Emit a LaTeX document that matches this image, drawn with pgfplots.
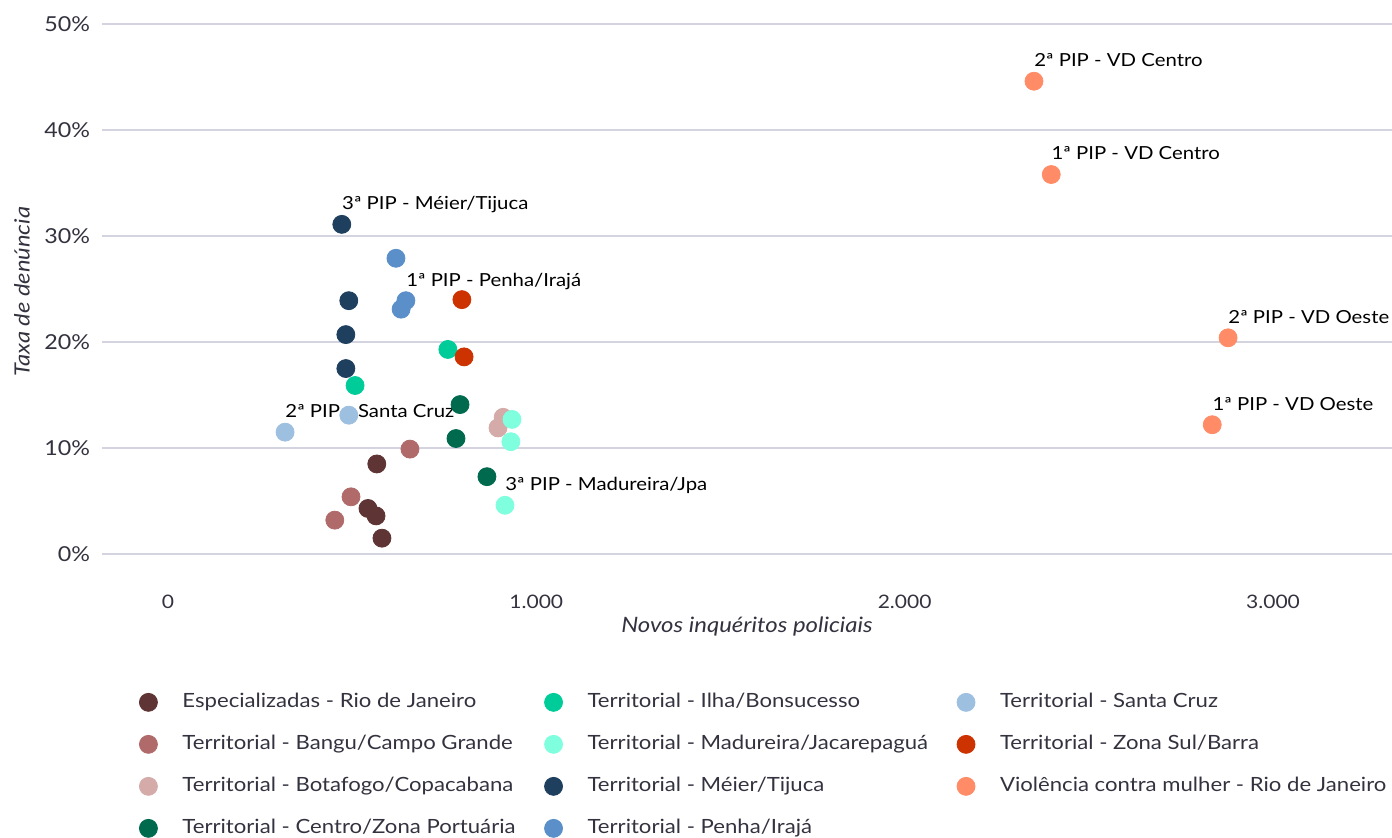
\documentclass[border=0pt]{standalone}
\usepackage{fontspec}
\setmainfont{Lato}[FakeStretch=1.13]
\usepackage{pgfplots}
\pgfplotsset{compat=1.18}
\definecolor{cEsp}{HTML}{5E3434}
\definecolor{cBan}{HTML}{B06A6A}
\definecolor{cBot}{HTML}{D4ABA8}
\definecolor{cCen}{HTML}{006A4E}
\definecolor{cIlh}{HTML}{00CC99}
\definecolor{cMad}{HTML}{80FFDF}
\definecolor{cMei}{HTML}{1F3F5F}
\definecolor{cPen}{HTML}{5A8FCA}
\definecolor{cSan}{HTML}{9DBFE0}
\definecolor{cZon}{HTML}{CC3300}
\definecolor{cVio}{HTML}{FF8C66}
\definecolor{gridc}{HTML}{D4D4E0}
\definecolor{tickc}{HTML}{333340}
\pgfplotsset{
  dot/.style={only marks, mark=*, mark size=4.5pt, color=#1},
}
\tikzset{
  lbl/.style={anchor=base west, inner sep=0pt, yshift=7.3pt, font=\fontsize{9}{10}\selectfont, text=black}
}
\begin{document}
\begin{tikzpicture}
\begin{axis}[
  scale only axis, width=645pt, height=282pt,
  xmin=-179, xmax=3323, ymin=-3.2, ymax=50,
  clip=false,
  axis line style={draw=none},
  major tick length=0pt,
  ymajorgrids, grid style={color=gridc, line width=1pt},
  xtick={0,1000,2000,3000}, xticklabels={0,1.000,2.000,3.000},
  ytick={0,10,20,30,40,50}, yticklabels={0\%,10\%,20\%,30\%,40\%,50\%},
  xticklabel style={font=\fontsize{9.3}{10}\selectfont, text=tickc},
  yticklabel style={font=\fontsize{10.3}{12}\selectfont, text=tickc, xshift=-2.5pt},
  xlabel={Novos inquéritos policiais},
  ylabel={Taxa de denúncia},
  xlabel style={at={(axis description cs:0.5,-0.069)}, anchor=center, font=\itshape\fontsize{10.6}{12}\selectfont, text=tickc},
  ylabel style={at={(axis description cs:-0.062,0.525)}, anchor=center, font=\itshape\fontsize{10.5}{12}\selectfont, text=tickc},
  legend columns=3, legend cell align=left,
  legend style={at={(axis description cs:0.0287,-0.1861)}, anchor=north west, draw=none, fill=none, inner sep=0pt,
    font=\fontsize{9.8}{11}\selectfont, text=tickc, row sep=12pt,
    /tikz/every odd column/.append style={column sep=12.5pt},
    /tikz/every even column/.append style={column sep=14.5pt},
    nodes={inner sep=0pt, text height=7pt, text depth=2pt}},
]
% Especializadas - Rio de Janeiro
\addplot[dot=cEsp, forget plot] coordinates {(567,8.5) (543,4.3) (565,3.6) (581,1.5)};
% Bangu/Campo Grande
\addplot[dot=cBan, forget plot] coordinates {(657,9.9) (497,5.4) (453,3.2)};
% Botafogo/Copacabana
\addplot[dot=cBot, forget plot] coordinates {(910,12.9) (896,11.9)};
% Centro/Zona Portuaria
\addplot[dot=cCen, forget plot] coordinates {(793,14.1) (782,10.9) (866,7.3)};
% Ilha/Bonsucesso
\addplot[dot=cIlh, forget plot] coordinates {(760,19.3) (508,15.9)};
% Madureira/Jacarepagua
\addplot[dot=cMad, forget plot] coordinates {(934,12.7) (931,10.6) (915,4.6)};
% Meier/Tijuca
\addplot[dot=cMei, forget plot] coordinates {(472,31.1) (491,23.9) (483,20.7) (483,17.5)};
% Penha/Iraja
\addplot[dot=cPen, forget plot] coordinates {(619,27.9) (646,23.9) (633,23.1)};
% Santa Cruz
\addplot[dot=cSan, forget plot] coordinates {(318,11.5) (491,13.1)};
% Zona Sul/Barra
\addplot[dot=cZon, forget plot] coordinates {(798,24.0) (804,18.6)};
% Violencia contra mulher
\addplot[dot=cVio, forget plot] coordinates {(2351,44.6) (2398,35.8) (2878,20.4) (2835,12.2)};

\node[lbl] at (axis cs:2351,44.6) {2ª PIP - VD Centro};
\node[lbl] at (axis cs:2398,35.8) {1ª PIP - VD Centro};
\node[lbl] at (axis cs:2878,20.4) {2ª PIP - VD Oeste};
\node[lbl] at (axis cs:2835,12.2) {1ª PIP - VD Oeste};
\node[lbl] at (axis cs:472,31.1) {3ª PIP - Méier/Tijuca};
\node[lbl] at (axis cs:646,23.9) {1ª PIP - Penha/Irajá};
\node[lbl] at (axis cs:318,11.5) {2ª PIP - Santa Cruz};
\node[lbl] at (axis cs:915,4.6) {3ª PIP - Madureira/Jpa};

\addlegendimage{dot=cEsp}\addlegendentry{Especializadas - Rio de Janeiro}
\addlegendimage{dot=cIlh}\addlegendentry{Territorial - Ilha/Bonsucesso}
\addlegendimage{dot=cSan}\addlegendentry{Territorial - Santa Cruz}
\addlegendimage{dot=cBan}\addlegendentry{Territorial - Bangu/Campo Grande}
\addlegendimage{dot=cMad}\addlegendentry{Territorial - Madureira/Jacarepaguá}
\addlegendimage{dot=cZon}\addlegendentry{Territorial - Zona Sul/Barra}
\addlegendimage{dot=cBot}\addlegendentry{Territorial - Botafogo/Copacabana}
\addlegendimage{dot=cMei}\addlegendentry{Territorial - Méier/Tijuca}
\addlegendimage{dot=cVio}\addlegendentry{Violência contra mulher - Rio de Janeiro}
\addlegendimage{dot=cCen}\addlegendentry{Territorial - Centro/Zona Portuária}
\addlegendimage{dot=cPen}\addlegendentry{Territorial - Penha/Irajá}
\end{axis}
\pgfresetboundingbox
\path ([xshift=-51pt,yshift=-125pt]current axis.south west) rectangle ([yshift=12pt]current axis.north east);
\end{tikzpicture}
\end{document}
